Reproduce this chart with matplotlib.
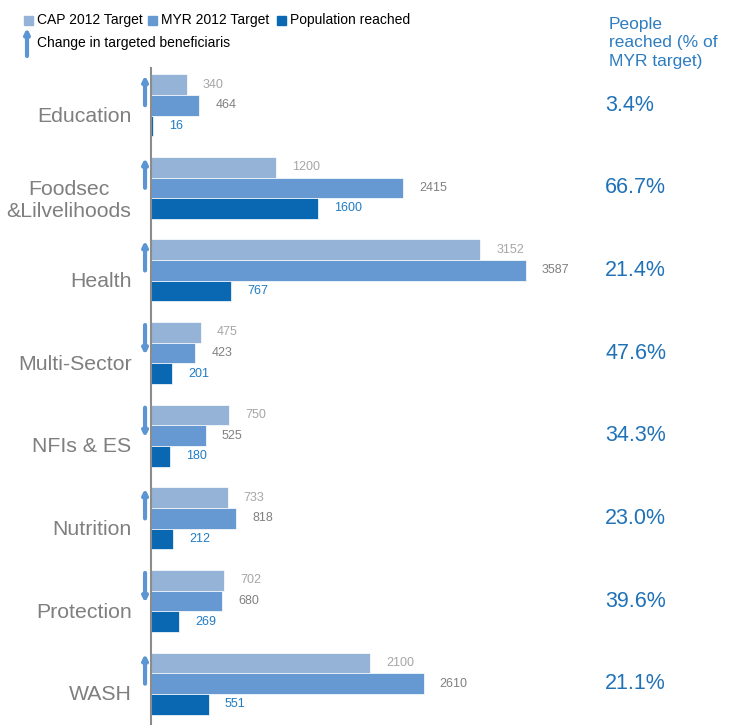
import matplotlib
matplotlib.use("Agg")
import matplotlib.pyplot as plt
import matplotlib.transforms as mtransforms
from matplotlib.patches import Rectangle, FancyArrowPatch
import numpy as np

plt.rcParams['font.family'] = ['Liberation Sans', 'DejaVu Sans']

# data
sectors = ["Education", "Foodsec\n&Lilvelihoods", "Health", "Multi-Sector",
           "NFIs & ES", "Nutrition", "Protection", "WASH"]
cap_target = [340, 1200, 3152, 475, 750, 733, 702, 2100]
myr_target = [464, 2415, 3587, 423, 525, 818, 680, 2610]
reached = [16, 1600, 767, 201, 180, 212, 269, 551]
pct_reached = ["3.4%", "66.7%", "21.4%", "47.6%", "34.3%", "23.0%", "39.6%", "21.1%"]
change = ["up", "up", "up", "down", "down", "up", "down", "up"]

c_cap = "#95b3d7"
c_myr = "#6699d1"
c_pop = "#0a68b3"
c_arrow = "#5b95d3"

W, H = 729, 725
fig = plt.figure(figsize=(W / 100, H / 100), dpi=100)
ax = fig.add_axes([151 / W, 0, 449 / W, 657 / H])

y = np.arange(len(sectors))
bh = 0.25
ax.barh(y - bh, cap_target, height=bh, color=c_cap, edgecolor="white", linewidth=0.5)
ax.barh(y, myr_target, height=bh, color=c_myr, edgecolor="white", linewidth=0.5)
ax.barh(y + bh, reached, height=bh, color=c_pop, edgecolor="white", linewidth=0.5)

ax.set_xlim(0, 449 / 0.1045)
ax.set_ylim(7.5, -0.45)

off = mtransforms.offset_copy(ax.transData, fig=fig, x=16, y=0, units="dots")
for i in range(len(sectors)):
    ax.text(cap_target[i], y[i] - bh, str(cap_target[i]), transform=off,
            va="center", ha="left", fontsize=9, color="#a6a6a6")
    ax.text(myr_target[i], y[i], str(myr_target[i]), transform=off,
            va="center", ha="left", fontsize=9, color="#808080")
    ax.text(reached[i], y[i] + bh, str(reached[i]), transform=off,
            va="center", ha="left", fontsize=9, color="#1f7cc4")

# change arrows next to the axis
for i, d in enumerate(change):
    if d == "up":
        start, end = y[i] + 0.0, y[i] - 0.36
    else:
        start, end = y[i] - 0.34, y[i] + 0.02
    ax.annotate("", xy=(-57, end), xytext=(-57, start), annotation_clip=False,
                arrowprops=dict(arrowstyle="-|>", color=c_arrow, lw=3,
                                mutation_scale=7, shrinkA=0, shrinkB=0))

# sector names sit a little below the group centre
ax.set_yticks(y + 0.11)
ax.set_yticklabels(sectors, fontsize=15.3, color="#7f7f7f", multialignment="center")
ax.tick_params(axis="y", length=0, pad=14)
ax.set_xticks([])
for s in ["top", "right", "bottom"]:
    ax.spines[s].set_visible(False)
ax.spines["left"].set_color("#8c8c8c")
ax.spines["left"].set_linewidth(1.5)

# percentages column
tr = mtransforms.blended_transform_factory(fig.transFigure, ax.transData)
for i, p in enumerate(pct_reached):
    ax.text(605 / W, y[i], p, transform=tr, ha="left", va="center",
            fontsize=15.5, color="#2072b8", clip_on=False)

fig.text(609 / W, 1 - 43 / H, "People\nreached (% of\nMYR target)", ha="left", va="center",
         fontsize=12.5, color="#2e7dc1", linespacing=1.3)

# legend drawn by hand
leg = [("CAP 2012 Target", c_cap, 24), ("MYR 2012 Target", c_myr, 148),
       ("Population reached", c_pop, 277)]
for label, col, x0 in leg:
    fig.add_artist(Rectangle((x0 / W, 1 - 25 / H), 9 / W, 9 / H, color=col,
                             transform=fig.transFigure))
    fig.text((x0 + 13) / W, 1 - 20 / H, label, ha="left", va="center",
             fontsize=10, color="black")
fig.add_artist(FancyArrowPatch((27 / W, 1 - 56 / H), (27 / W, 1 - 28 / H),
               transform=fig.transFigure, arrowstyle="-|>", color=c_arrow,
               lw=3, mutation_scale=7, shrinkA=0, shrinkB=0))
fig.text(37 / W, 1 - 43 / H, "Change in targeted beneficiaris", ha="left", va="center",
         fontsize=10, color="black")

fig.savefig("out.png", dpi=100)
